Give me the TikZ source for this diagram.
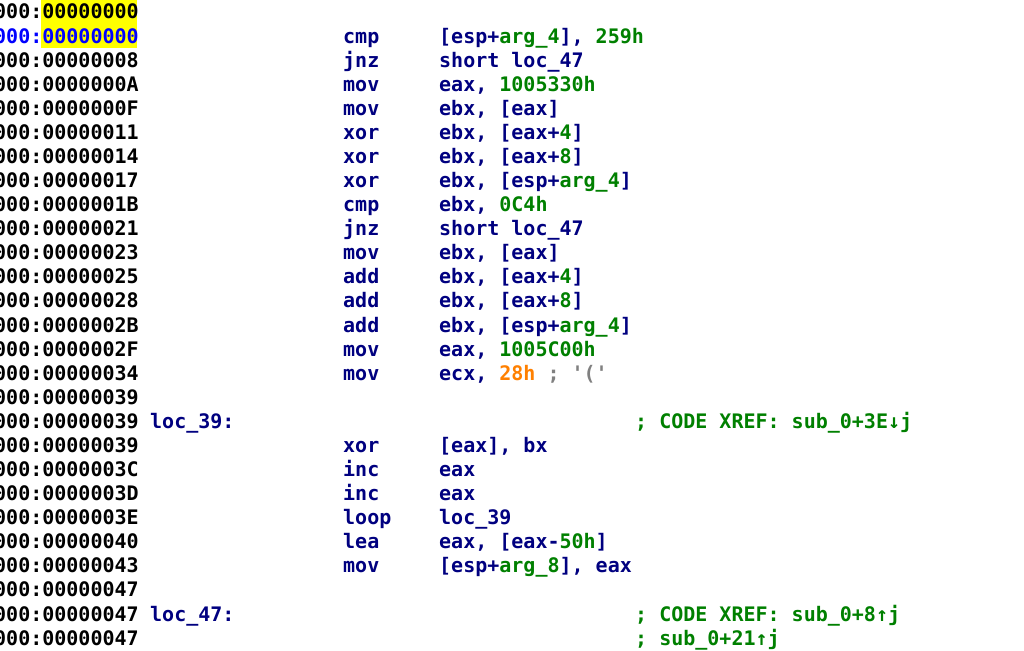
\documentclass[tikz,border=0pt]{standalone}
\usepackage{fontspec}
\usepackage{xcolor}
\usepackage{tikz}
\newfontfamily\idafont{DejaVu Sans Mono}
\definecolor{kwnavy}{RGB}{0,0,128}
\definecolor{numgreen}{RGB}{0,128,0}
\definecolor{addrblue}{RGB}{0,0,255}
\definecolor{strorange}{RGB}{255,128,0}
\definecolor{cmtgrey}{RGB}{128,128,128}
\definecolor{hiyellow}{RGB}{255,255,0}
\newcommand{\nm}[1]{\textcolor{numgreen}{#1}}
% one listing row: row, address, mnemonic, operands
\newcommand{\asmrow}[4]{%
  \node[txt] (a#1) at (-6,{19+24.08*#1}) {000:#2};
  \node[txt, text=kwnavy] (m#1) at (343,{19+24.08*#1}) {#3};
  \node[txt, text=kwnavy] (o#1) at (439,{19+24.08*#1}) {#4};
}
\begin{document}
\begin{tikzpicture}[
    x=1pt, y=-1pt,
    txt/.style={anchor=base west, inner sep=0pt, font=\idafont\bfseries\fontsize{20}{24}\selectfont}
]
\useasboundingbox[fill=white] (0,0) rectangle (1024,650);
\fill[hiyellow] (41,0) rectangle (137,48);

\node[txt] (a0) at (-6,19) {000:00000000};
\node[txt] (pre1) at (-6,{19+24.08}) {\textcolor{addrblue}{000:00000000}};
\node[txt, text=kwnavy] (m1) at (343,{19+24.08}) {cmp};
\node[txt, text=kwnavy] (o1) at (439,{19+24.08}) {[esp+\nm{arg\_4}], \nm{259h}};
\asmrow{2}{00000008}{jnz}{short loc\_47}
\asmrow{3}{0000000A}{mov}{eax, \nm{1005330h}}
\asmrow{4}{0000000F}{mov}{ebx, [eax]}
\asmrow{5}{00000011}{xor}{ebx, [eax+\nm{4}]}
\asmrow{6}{00000014}{xor}{ebx, [eax+\nm{8}]}
\asmrow{7}{00000017}{xor}{ebx, [esp+\nm{arg\_4}]}
\asmrow{8}{0000001B}{cmp}{ebx, \nm{0C4h}}
\asmrow{9}{00000021}{jnz}{short loc\_47}
\asmrow{10}{00000023}{mov}{ebx, [eax]}
\asmrow{11}{00000025}{add}{ebx, [eax+\nm{4}]}
\asmrow{12}{00000028}{add}{ebx, [eax+\nm{8}]}
\asmrow{13}{0000002B}{add}{ebx, [esp+\nm{arg\_4}]}
\asmrow{14}{0000002F}{mov}{eax, \nm{1005C00h}}
\asmrow{15}{00000034}{mov}{ecx, \textcolor{strorange}{28h} \textcolor{cmtgrey}{; '('}}
\node[txt] (a16) at (-6,{19+24.08*16}) {000:00000039};
\node[txt] (a17) at (-6,{19+24.08*17}) {000:00000039};
\node[txt, text=kwnavy] (l17) at (150,{19+24.08*17}) {loc\_39:};
\node[txt, text=numgreen] (c17) at (635,{19+24.08*17}) {; CODE XREF: sub\_0+3E↓j};
\asmrow{18}{00000039}{xor}{[eax], bx}
\asmrow{19}{0000003C}{inc}{eax}
\asmrow{20}{0000003D}{inc}{eax}
\asmrow{21}{0000003E}{loop}{loc\_39}
\asmrow{22}{00000040}{lea}{eax, [eax-\nm{50h}]}
\asmrow{23}{00000043}{mov}{[esp+\nm{arg\_8}], eax}
\node[txt] (a24) at (-6,{19+24.08*24}) {000:00000047};
\node[txt] (a25) at (-6,{19+24.08*25}) {000:00000047};
\node[txt, text=kwnavy] (l25) at (150,{19+24.08*25}) {loc\_47:};
\node[txt, text=numgreen] (c25) at (635,{19+24.08*25}) {; CODE XREF: sub\_0+8↑j};
\node[txt] (a26) at (-6,{19+24.08*26}) {000:00000047};
\node[txt, text=numgreen] (c26) at (635,{19+24.08*26}) {; sub\_0+21↑j};
\end{tikzpicture}
\end{document}
